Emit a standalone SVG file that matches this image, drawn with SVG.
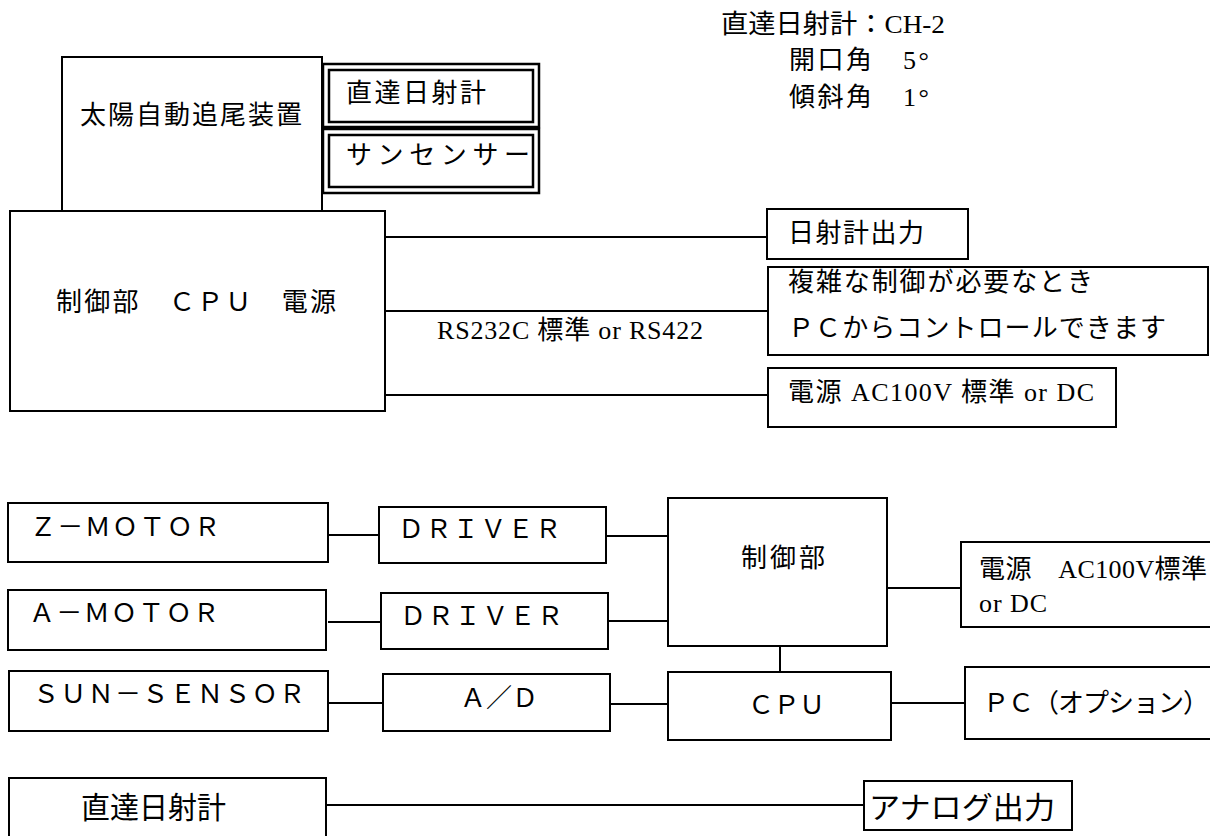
<svg xmlns="http://www.w3.org/2000/svg" width="1210" height="836" viewBox="0 0 1210 836">
<style>
.box{fill:#fff;stroke:#000;stroke-width:2}
.dbl{fill:none;stroke:#000;stroke-width:2.5}
.ln{stroke:#000;stroke-width:2;fill:none}
text{font-family:"Liberation Serif","Noto Sans CJK JP",serif;font-size:26px;fill:#000;dominant-baseline:central}
.g{font-family:"Noto Sans CJK JP",sans-serif;font-size:30px}
</style>
<rect width="1210" height="836" fill="#fff"/>
<g id="spec">
<text x="721" y="24" textLength="224" lengthAdjust="spacingAndGlyphs">直達日射計：CH-2</text>
<text x="789" y="60" textLength="140" lengthAdjust="spacing">開口角　5°</text>
<text x="789" y="97" textLength="140" lengthAdjust="spacing">傾斜角　1°</text>
</g>
<g id="connectors">
<line class="ln" x1="385" y1="237" x2="767" y2="237"/>
<line class="ln" x1="385" y1="311" x2="768" y2="311"/>
<line class="ln" x1="385" y1="395" x2="768" y2="395"/>
<line class="ln" x1="328" y1="535" x2="379" y2="535"/>
<line class="ln" x1="606" y1="536" x2="668" y2="536"/>
<line class="ln" x1="328" y1="622" x2="381" y2="622"/>
<line class="ln" x1="608" y1="621" x2="668" y2="621"/>
<line class="ln" x1="329" y1="703" x2="383" y2="703"/>
<line class="ln" x1="610" y1="704" x2="668" y2="704"/>
<line class="ln" x1="887" y1="588" x2="961" y2="588"/>
<line class="ln" x1="780" y1="646" x2="780" y2="672"/>
<line class="ln" x1="891" y1="703" x2="965" y2="703"/>
<line class="ln" x1="326" y1="805" x2="864" y2="805"/>
</g>
<g id="tracker">
<rect class="box" x="62" y="57" width="260" height="154"/>
<text x="80" y="115" textLength="222" lengthAdjust="spacing">太陽自動追尾装置</text>
</g>
<g id="pyrheliometer">
<rect class="dbl" x="323" y="64" width="216" height="63"/>
<rect class="dbl" x="329" y="70" width="204" height="52"/>
<text x="346" y="93" textLength="140" lengthAdjust="spacing">直達日射計</text>
</g>
<g id="sunsensor">
<rect class="dbl" x="323" y="129" width="216" height="64"/>
<rect class="dbl" x="329" y="135" width="204" height="52"/>
<text x="346" y="155" textLength="184" lengthAdjust="spacing">サンセンサー</text>
</g>
<g id="controller">
<rect class="box" x="10" y="211" width="375" height="200"/>
<text x="56" y="302" textLength="280" lengthAdjust="spacing">制御部　ＣＰＵ　電源</text>
</g>
<g id="rs-label">
<text x="437" y="330" textLength="266" lengthAdjust="spacing">RS232C 標準 or RS422</text>
</g>
<g id="output">
<rect class="box" x="767" y="209" width="201" height="50"/>
<text x="788" y="233" textLength="136" lengthAdjust="spacing">日射計出力</text>
</g>
<g id="pc-note">
<rect class="box" x="768" y="267" width="440" height="88"/>
<text x="788" y="282" textLength="305" lengthAdjust="spacing">複雑な制御が必要なとき</text>
<text x="788" y="328" textLength="378" lengthAdjust="spacing">ＰＣからコントロールできます</text>
</g>
<g id="power">
<rect class="box" x="768" y="368" width="348" height="59"/>
<text x="788" y="392" textLength="306" lengthAdjust="spacing">電源 AC100V 標準 or DC</text>
</g>
<g id="zmotor">
<rect class="box" x="8" y="503" width="320" height="59"/>
<text x="30" y="527" textLength="190" lengthAdjust="spacing">Ｚ－ＭＯＴＯＲ</text>
</g>
<g id="driver1">
<rect class="box" x="379" y="507" width="227" height="56"/>
<text x="398" y="529" textLength="163" lengthAdjust="spacing">ＤＲＩＶＥＲ</text>
</g>
<g id="amotor">
<rect class="box" x="8" y="590" width="318" height="60"/>
<text x="29" y="613" textLength="190" lengthAdjust="spacing">Ａ－ＭＯＴＯＲ</text>
</g>
<g id="driver2">
<rect class="box" x="381" y="593" width="227" height="56"/>
<text x="400" y="616" textLength="163" lengthAdjust="spacing">ＤＲＩＶＥＲ</text>
</g>
<g id="sunsensor2">
<rect class="box" x="9" y="671" width="319" height="60"/>
<text x="33" y="694" textLength="272" lengthAdjust="spacing">ＳＵＮ－ＳＥＮＳＯＲ</text>
</g>
<g id="ad">
<rect class="box" x="383" y="674" width="227" height="57"/>
<text x="460" y="698" textLength="78" lengthAdjust="spacing">Ａ／Ｄ</text>
</g>
<g id="control">
<rect class="box" x="668" y="498" width="219" height="148"/>
<text x="741" y="558" textLength="84" lengthAdjust="spacing">制御部</text>
</g>
<g id="power2">
<rect class="box" x="961" y="542" width="260" height="85"/>
<text x="979" y="569" textLength="228" lengthAdjust="spacing">電源　AC100V標準</text>
<text x="979" y="603" textLength="68" lengthAdjust="spacing">or DC</text>
</g>
<g id="cpu">
<rect class="box" x="668" y="672" width="223" height="68"/>
<text x="748" y="705" textLength="77" lengthAdjust="spacing">ＣＰＵ</text>
</g>
<g id="pc">
<rect class="box" x="965" y="667" width="260" height="72"/>
<text x="983" y="703" textLength="226" lengthAdjust="spacing">ＰＣ（オプション）</text>
</g>
<g id="pyr2">
<rect class="box" x="9" y="778" width="317" height="70"/>
<text class="g" x="81" y="805" textLength="145" lengthAdjust="spacingAndGlyphs">直達日射計</text>
</g>
<g id="analog">
<rect class="box" x="864" y="781" width="208" height="49"/>
<text class="g" x="869" y="805" textLength="186" lengthAdjust="spacingAndGlyphs">アナログ出力</text>
</g>
</svg>
